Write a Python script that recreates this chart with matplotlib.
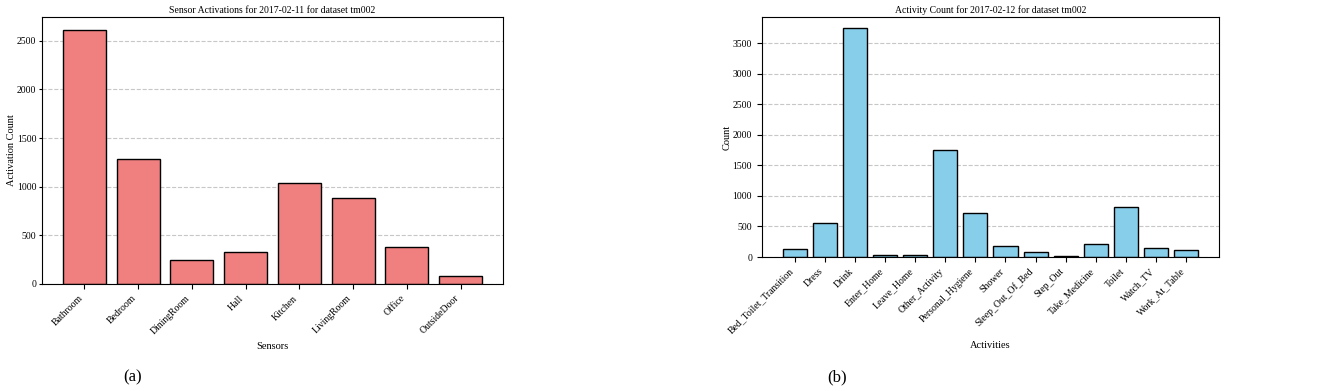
import matplotlib
matplotlib.use("Agg")
from matplotlib import pyplot as plt

plt.rcParams['font.family'] = ['Liberation Serif', 'DejaVu Serif']

# (a) sensor activations on 2017-02-11
sensors = ['Bathroom', 'Bedroom', 'DiningRoom', 'Hall', 'Kitchen',
           'LivingRoom', 'Office', 'OutsideDoor']
sensor_counts = [2613, 1289, 247, 333, 1039, 881, 384, 82]

# (b) activity count on 2017-02-12
activities = ['Bed_Toilet_Transition', 'Dress', 'Drink', 'Enter_Home',
              'Leave_Home', 'Other_Activity', 'Personal_Hygiene', 'Shower',
              'Sleep_Out_Of_Bed', 'Step_Out', 'Take_Medicine', 'Toilet',
              'Watch_TV', 'Work_At_Table']
activity_counts = [131, 558, 3741, 27, 27, 1745, 722, 175, 82, 16, 208,
                   820, 153, 115]

fig = plt.figure(figsize=(13.25, 3.91), dpi=100)

ax1 = fig.add_axes([0.0317, 0.2737, 0.348, 0.6828])
ax1.bar(sensors, sensor_counts, color='lightcoral', edgecolor='black')
ax1.set_title('Sensor Activations for 2017-02-11 for dataset tm002', fontsize=7, pad=3)
ax1.set_xlabel('Sensors', fontsize=7.5)
ax1.set_ylabel('Activation Count', fontsize=7.5, labelpad=1)
ax1.tick_params(labelsize=7)
ax1.tick_params(axis='y', length=2.5, pad=1.5)
plt.setp(ax1.get_xticklabels(), rotation=45, ha='right')
ax1.grid(axis='y', linestyle='--', alpha=0.7)
ax1.set_axisbelow(True)

ax2 = fig.add_axes([0.575, 0.3427, 0.345, 0.6138])
ax2.bar(activities, activity_counts, color='skyblue', edgecolor='black')
ax2.set_title('Activity Count for 2017-02-12 for dataset tm002', fontsize=7, pad=3)
ax2.set_xlabel('Activities', fontsize=7.5)
ax2.set_ylabel('Count', fontsize=7.5, labelpad=1)
ax2.tick_params(labelsize=7)
plt.setp(ax2.get_xticklabels(), rotation=45, ha='right')
ax2.grid(axis='y', linestyle='--', alpha=0.7)
ax2.set_axisbelow(True)

fig.text(133 / 1325, 1 - 377 / 391, '(a)', fontsize=12, ha='center', va='center')
fig.text(837 / 1325, 1 - 377 / 391, '(b)', fontsize=12, ha='center', va='center')

fig.savefig('out.png', dpi=100)
